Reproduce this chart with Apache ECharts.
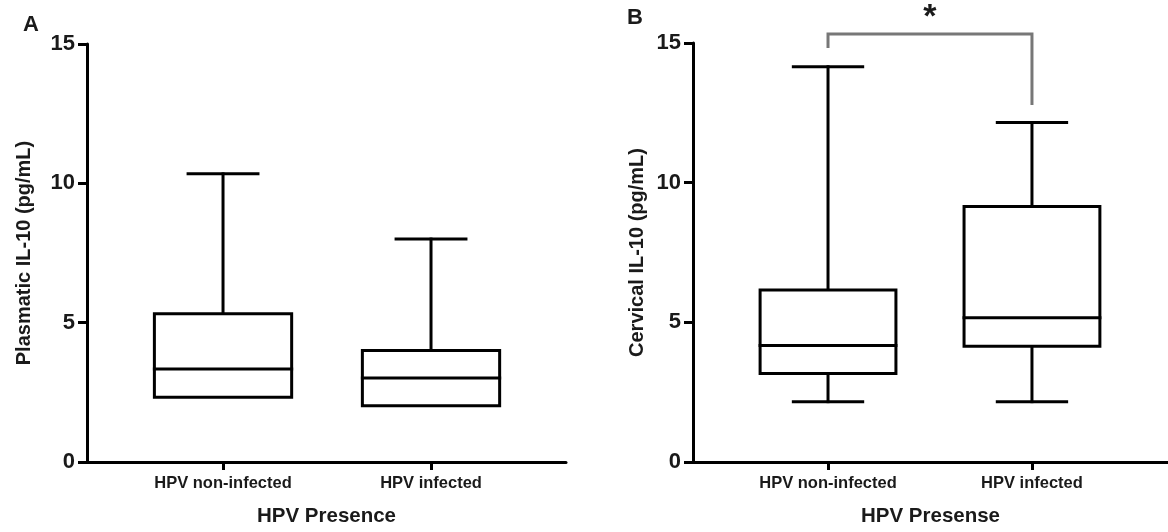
<!DOCTYPE html>
<html>
<head>
<meta charset="utf-8">
<script src="https://cdn.jsdelivr.net/npm/echarts@6/dist/echarts.min.js"></script>
<style>
html,body{margin:0;padding:0;background:#fff;}
#chart{width:1168px;height:532px;}
</style>
</head>
<body>
<div id="chart"></div>
<script>
// ---- data ----
const categories = ['HPV non-infected', 'HPV infected'];
const yTicks = [0, 5, 10, 15];

// Panel A: plasmatic IL-10 (pg/mL)
const plasmaticMin    = [2.32, 2.02];
const plasmaticQ1     = [2.32, 2.02];
const plasmaticMedian = [3.34, 3.01];
const plasmaticQ3     = [5.32, 4.00];
const plasmaticMax    = [10.34, 8.00];

// Panel B: cervical IL-10 (pg/mL)
const cervicalMin    = [2.16, 2.16];
const cervicalQ1     = [3.17, 4.14];
const cervicalMedian = [4.17, 5.16];
const cervicalQ3     = [6.16, 9.15];
const cervicalMax    = [14.15, 12.15];

// significance bracket (panel B): between categories, bracket height and leg ends
const sigPair = [0, 1];
const sigTop = [15.32];
const sigLegEnds = [14.82, 12.78];
const sigLabel = ['*'];

// ---- build ----
const FONT = '"Liberation Sans", Arial, sans-serif';
const TXT = '#1a1a1a';

function boxData(mn, q1, md, q3, mx) {
  return categories.map((c, i) => [i, mn[i], q1[i], md[i], q3[i], mx[i]]);
}

function makeBoxRender(boxHalf, capHalf) {
  return function (params, api) {
    const x = api.value(0), mn = api.value(1), q1 = api.value(2),
          md = api.value(3), q3 = api.value(4), mx = api.value(5);
    const p = (a, b) => api.coord([a, b]);
    const ls = { stroke: '#000', lineWidth: 3, fill: null, lineCap: 'square' };
    const seg = (a, b) => ({ type: 'line', shape: { x1: a[0], y1: a[1], x2: b[0], y2: b[1] }, style: ls });
    const ch = [];
    ch.push(seg(p(x, q3), p(x, mx)));
    ch.push(seg(p(x - capHalf, mx), p(x + capHalf, mx)));
    if (mn < q1) {
      ch.push(seg(p(x, mn), p(x, q1)));
      ch.push(seg(p(x - capHalf, mn), p(x + capHalf, mn)));
    }
    ch.push({ type: 'polygon', shape: { points: [p(x - boxHalf, q1), p(x + boxHalf, q1), p(x + boxHalf, q3), p(x - boxHalf, q3)] },
              style: { stroke: '#000', lineWidth: 3, fill: '#fff', lineJoin: 'miter' } });
    ch.push(seg(p(x - boxHalf, md), p(x + boxHalf, md)));
    return { type: 'group', children: ch };
  };
}

function xAxisDef(gridIndex, min, max, name) {
  return {
    type: 'value', gridIndex, min, max,
    name, nameLocation: 'middle', nameGap: 44,
    nameTextStyle: { fontFamily: FONT, fontWeight: 'bold', fontSize: 20.5, color: TXT },
    axisLine: { show: true, onZero: false, lineStyle: { color: '#000', width: 3 } },
    axisTick: { show: true, customValues: [0, 1], length: 8, lineStyle: { color: '#000', width: 3 } },
    axisLabel: { show: true, customValues: [0, 1], margin: 13,
      formatter: v => categories[Math.round(v)] || '',
      fontFamily: FONT, fontWeight: 'bold', fontSize: 16.5, color: TXT },
    splitLine: { show: false }
  };
}

function yAxisDef(gridIndex, name, gap) {
  return {
    type: 'value', gridIndex, min: 0, max: 15, interval: 5,
    name, nameLocation: 'middle', nameGap: gap,
    nameTextStyle: { fontFamily: FONT, fontWeight: 'bold', fontSize: 20, color: TXT },
    axisLine: { show: true, onZero: false, lineStyle: { color: '#000', width: 3 } },
    axisTick: { show: true, length: 9, lineStyle: { color: '#000', width: 3 } },
    axisLabel: { show: true, margin: 12, fontFamily: FONT, fontWeight: 'bold', fontSize: 22, color: TXT,
      formatter: v => (yTicks.indexOf(v) >= 0 ? String(v) : '') },
    splitLine: { show: false }
  };
}

const option = {
  backgroundColor: '#fff',
  animation: false,
  title: [
    { text: 'A', left: 18, top: 9, textStyle: { fontFamily: FONT, fontWeight: 'bold', fontSize: 22, color: TXT } },
    { text: 'B', left: 622, top: 2, textStyle: { fontFamily: FONT, fontWeight: 'bold', fontSize: 22, color: TXT } }
  ],
  grid: [
    { left: 87, top: 44, width: 479, bottom: 66, containLabel: false },
    { left: 693, top: 43, right: 0, bottom: 66, containLabel: false }
  ],
  xAxis: [
    xAxisDef(0, -0.654, 1.649, 'HPV Presence'),
    xAxisDef(1, -0.662, 1.667, 'HPV Presense')
  ],
  yAxis: [
    yAxisDef(0, 'Plasmatic IL-10 (pg/mL)', 53),
    yAxisDef(1, 'Cervical IL-10 (pg/mL)', 46)
  ],
  series: [
    {
      type: 'custom', xAxisIndex: 0, yAxisIndex: 0, clip: false,
      data: boxData(plasmaticMin, plasmaticQ1, plasmaticMedian, plasmaticQ3, plasmaticMax),
      encode: { x: 0, y: [1, 2, 3, 4, 5] },
      renderItem: makeBoxRender(0.33, 0.168)
    },
    {
      type: 'custom', xAxisIndex: 1, yAxisIndex: 1, clip: false,
      data: boxData(cervicalMin, cervicalQ1, cervicalMedian, cervicalQ3, cervicalMax),
      encode: { x: 0, y: [1, 2, 3, 4, 5] },
      renderItem: makeBoxRender(0.333, 0.17)
    },
    {
      type: 'custom', xAxisIndex: 1, yAxisIndex: 1, clip: false,
      data: [[sigPair[0], sigPair[1], sigTop[0], sigLegEnds[0], sigLegEnds[1]]],
      encode: { x: [0, 1], y: [2, 3, 4] },
      renderItem: function (params, api) {
        const a = api.value(0), b = api.value(1), top = api.value(2), la = api.value(3), lb = api.value(4);
        const p1 = api.coord([a, la]), p2 = api.coord([a, top]), p3 = api.coord([b, top]), p4 = api.coord([b, lb]);
        const mid = api.coord([(a + b) / 2, top]);
        return {
          type: 'group',
          children: [
            { type: 'polyline', shape: { points: [p1, p2, p3, p4] },
              style: { stroke: '#777', lineWidth: 3, fill: null, lineJoin: 'miter' } },
            { type: 'text', x: mid[0], y: mid[1] + 1,
              style: { text: sigLabel[0], fontFamily: FONT, fontWeight: 'bold', fontSize: 34, fill: TXT,
                       align: 'center', verticalAlign: 'bottom' } }
          ]
        };
      }
    }
  ]
};

const chart = echarts.init(document.getElementById('chart'), null, { renderer: 'canvas' });
chart.setOption(option);
</script>
</body>
</html>
